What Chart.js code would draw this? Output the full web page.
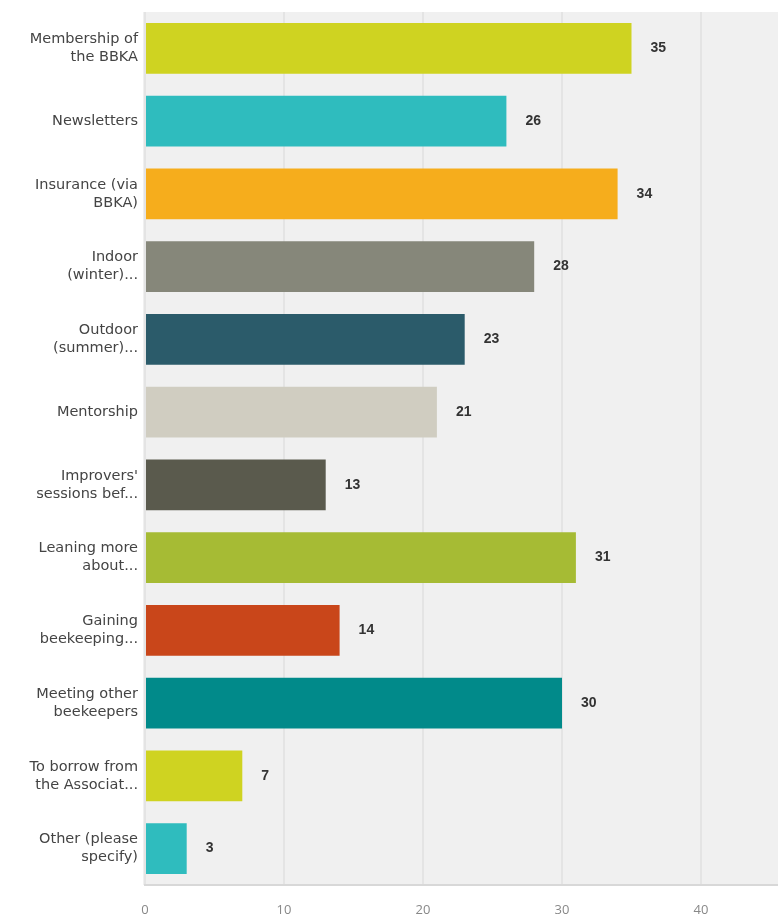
<!DOCTYPE html>
<html>
<head>
<meta charset="utf-8">
<script src="https://cdn.jsdelivr.net/npm/chart.js@4.4.1/dist/chart.umd.min.js"></script>
<style>
  html, body { margin: 0; padding: 0; background: #fff; overflow: hidden; }
  #wrap { position: relative; width: 842px; height: 920px; }
</style>
</head>
<body>
<div id="wrap"><canvas id="canvas"></canvas></div>
<script>
// answer options (wrapped like the survey tool shows them)
const categories = [
  ['Membership of', 'the BBKA'],
  'Newsletters',
  ['Insurance (via', 'BBKA)'],
  ['Indoor', '(winter)...'],
  ['Outdoor', '(summer)...'],
  'Mentorship',
  ['Improvers\'', 'sessions bef...'],
  ['Leaning more', 'about...'],
  ['Gaining', 'beekeeping...'],
  ['Meeting other', 'beekeepers'],
  ['To borrow from', 'the Associat...'],
  ['Other (please', 'specify)']
];
const responses = [35, 26, 34, 28, 23, 21, 13, 31, 14, 30, 7, 3];
const barColors = [
  '#cfd321', '#2fbcbe', '#f6ad1c', '#86877a', '#2b5b6a', '#d0cdc1',
  '#5a5a4d', '#a6bb34', '#c9461a', '#018a8a', '#cfd321', '#2fbcbe'
];
const xTicks = [0, 10, 20, 30, 40];

// grey plot background
const plotBg = {
  id: 'plotBg',
  beforeDraw(chart) {
    const { ctx, chartArea: a } = chart;
    ctx.save();
    ctx.fillStyle = '#f0f0f0';
    ctx.fillRect(a.left - 2, a.top, a.right - a.left + 2, a.bottom - a.top);
    ctx.restore();
  }
};

// numbers next to the bars
const valueLabels = {
  id: 'valueLabels',
  afterDatasetsDraw(chart) {
    const { ctx } = chart;
    const meta = chart.getDatasetMeta(0);
    ctx.save();
    ctx.font = 'bold 14px "Liberation Sans", Arial, sans-serif';
    ctx.fillStyle = '#333';
    ctx.textBaseline = 'middle';
    meta.data.forEach((bar, i) => {
      ctx.fillText(String(responses[i]), bar.x + 19, bar.y);
    });
    ctx.restore();
  }
};

new Chart(document.getElementById('canvas'), {
  type: 'bar',
  data: {
    labels: categories,
    datasets: [{
      data: responses,
      backgroundColor: barColors,
      borderWidth: 0,
      categoryPercentage: 1,
      barPercentage: 0.7
    }]
  },
  options: {
    indexAxis: 'y',
    responsive: true,
    maintainAspectRatio: false,
    animation: false,
    layout: { padding: { top: 12, right: 2, left: 0, bottom: 0 } },
    plugins: {
      legend: { display: false },
      tooltip: { enabled: false }
    },
    scales: {
      x: {
        min: 0,
        max: 50,
        afterBuildTicks(scale) {
          scale.ticks = xTicks.map(v => ({ value: v }));
        },
        afterFit(scale) { scale.height = 35; },
        grid: { color: '#e4e4e4', lineWidth: 2, drawTicks: false },
        border: { display: true, color: '#d8d8d8', width: 2 },
        ticks: {
          padding: 17,
          color: '#888',
          font: { family: '"Open Sans", sans-serif', size: 13 }
        }
      },
      y: {
        afterFit(scale) {
          scale.width = 145;
          // labels are two lines; don't let them push the plot down
          scale.paddingTop = 0;
          scale.paddingBottom = 0;
        },
        grid: { display: false, drawTicks: false },
        border: { display: false },
        ticks: {
          padding: 7,
          color: '#444',
          font: { family: '"DejaVu Sans", sans-serif', size: 14.5, lineHeight: 1.25 }
        }
      }
    }
  },
  plugins: [plotBg, valueLabels]
});
</script>
</body>
</html>
